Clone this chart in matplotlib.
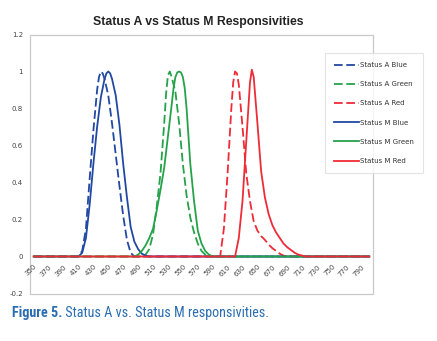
import matplotlib
matplotlib.use("Agg")
import matplotlib.pyplot as plt
from matplotlib import font_manager
from matplotlib.font_manager import FontProperties
from matplotlib.patches import Rectangle

# ---------------- data ----------------
a_blue_nm = [350, 410, 415, 420, 425, 430, 435, 437.5, 440, 442.5, 445, 450, 455, 460, 465, 470, 475, 480, 485, 800]
a_blue    = [0, 0, 0.03, 0.15, 0.42, 0.68, 0.90, 0.97, 1.00, 0.99, 0.96, 0.87, 0.72, 0.55, 0.38, 0.22, 0.09, 0.02, 0, 0]

m_blue_nm = [350, 410, 415, 420, 425, 430, 435, 440, 445, 447.5, 450, 452.5, 455, 460, 465, 470, 475, 480, 485, 490, 495, 500, 505, 800]
m_blue    = [0, 0, 0.02, 0.10, 0.28, 0.50, 0.70, 0.86, 0.96, 0.99, 1.00, 0.99, 0.96, 0.87, 0.71, 0.50, 0.32, 0.16, 0.08, 0.04, 0.015, 0.005, 0, 0]

a_green_nm = [350, 495, 500, 505, 510, 515, 520, 525, 527.5, 530, 532.5, 535, 540, 545, 550, 555, 560, 565, 570, 575, 580, 585, 590, 800]
a_green    = [0, 0, 0.01, 0.04, 0.12, 0.27, 0.45, 0.72, 0.88, 0.98, 1.00, 0.97, 0.89, 0.72, 0.50, 0.33, 0.21, 0.13, 0.07, 0.03, 0.01, 0.005, 0, 0]

m_green_nm = [350, 485, 490, 495, 500, 505, 510, 515, 520, 525, 530, 535, 537.5, 540, 542.5, 545, 547.5, 550, 552.5, 555, 560, 565, 570, 575, 580, 585, 590, 800]
m_green    = [0, 0, 0.01, 0.03, 0.06, 0.10, 0.15, 0.25, 0.36, 0.48, 0.65, 0.82, 0.91, 0.97, 0.995, 1.00, 0.995, 0.97, 0.91, 0.80, 0.50, 0.30, 0.14, 0.07, 0.03, 0.01, 0, 0]

a_red_nm = [350, 600, 605, 610, 615, 617.5, 620, 622.5, 625, 630, 635, 640, 645, 650, 655, 660, 665, 670, 675, 680, 685, 690, 800]
a_red    = [0, 0, 0.15, 0.45, 0.80, 0.94, 1.00, 0.99, 0.93, 0.70, 0.45, 0.30, 0.19, 0.14, 0.11, 0.09, 0.065, 0.045, 0.03, 0.015, 0.005, 0, 0]

m_red_nm = [350, 620, 625, 630, 635, 640, 642.5, 645, 650, 655, 660, 665, 670, 675, 680, 685, 690, 695, 700, 705, 710, 715, 800]
m_red    = [0, 0, 0.10, 0.30, 0.62, 0.94, 1.01, 0.97, 0.72, 0.46, 0.32, 0.23, 0.17, 0.13, 0.10, 0.07, 0.05, 0.035, 0.02, 0.01, 0.005, 0, 0]

x_ticks = list(range(350, 800, 20))
y_ticks = [-0.2, 0, 0.2, 0.4, 0.6, 0.8, 1, 1.2]
y_labels = ["-0.2", "0", "0.2", "0.4", "0.6", "0.8", "1", "1.2"]

title = "Status A vs Status M Responsivities"
caption_bold = "Figure 5."
caption_rest = " Status A vs. Status M responsivities."

# ---------------- style ----------------
BLUE = "#2148a2"
GREEN = "#26a24a"
RED = "#ee2c37"
GRAY = "#c9c9c9"
TXT = "#444444"
CAP = "#2a6db0"


def find_narrow(bold):
    prefs = ["LiberationSansNarrow", "RobotoCondensed", "OpenSansCondensed",
             "OpenSans_Condensed", "DejaVuSansCondensed", "NotoSansDisplay-Condensed",
             "NotoSans-Condensed", "Condensed", "Narrow"]
    files = [f.fname for f in font_manager.fontManager.ttflist]
    for p in prefs:
        cands = [f for f in files if p.lower() in f.replace(" ", "").lower()]
        if not cands:
            continue
        def score(fn):
            n = fn.lower()
            s = 0
            if "italic" in n or "oblique" in n:
                s += 10
            isbold = "bold" in n and "semibold" not in n and "extrabold" not in n
            if bold and not isbold:
                s += 3
            if not bold and ("bold" in n or "light" in n or "thin" in n or "black" in n
                             or "medium" in n):
                s += 3
            return s
        cands.sort(key=score)
        return FontProperties(fname=cands[0])
    return None


fp_cap_b = find_narrow(True)
fp_cap_r = find_narrow(False)
if fp_cap_b is None:
    fp_cap_b = FontProperties(family="Liberation Sans", weight="bold")
    fp_cap_r = FontProperties(family="Liberation Sans")
    cap_size = 8.5
else:
    cap_size = 10.2
fp_cap_b.set_size(cap_size)
fp_cap_r.set_size(cap_size)

fig = plt.figure(figsize=(4.37, 3.41), dpi=100)
ax = fig.add_axes([30 / 437, 1 - 293.5 / 341, 343 / 437, 259 / 341])

lw = 1.3
dash = (4.8, 2.0)
ax.plot(a_blue_nm, a_blue, color=BLUE, lw=lw, dashes=dash, label="Status A Blue")
ax.plot(a_green_nm, a_green, color=GREEN, lw=lw, dashes=dash, label="Status A Green")
ax.plot(a_red_nm, a_red, color=RED, lw=lw, dashes=dash, label="Status A Red")
ax.plot(m_blue_nm, m_blue, color=BLUE, lw=lw, label="Status M Blue")
ax.plot(m_green_nm, m_green, color=GREEN, lw=lw, label="Status M Green")
ax.plot(m_red_nm, m_red, color=RED, lw=lw, label="Status M Red")

ax.set_xlim(345, 805)
ax.set_ylim(-0.2, 1.2)

for s in ax.spines.values():
    s.set_visible(False)
ax.spines["bottom"].set_position(("data", 0))
ax.add_patch(Rectangle((0, 0), 1, 1, transform=ax.transAxes, fill=False,
                       edgecolor=GRAY, lw=0.9, zorder=0.5, clip_on=False))

ax.set_yticks(y_ticks)
ax.set_yticklabels(y_labels)
ax.set_xticks(x_ticks)
ax.set_xticklabels([str(v) for v in x_ticks], rotation=45, ha="right",
                   va="top", rotation_mode="anchor")
ax.tick_params(axis="both", length=0, labelsize=5, labelcolor=TXT)
ax.tick_params(axis="x", pad=5)
ax.tick_params(axis="y", pad=5)

leg = ax.legend(loc="upper left", bbox_to_anchor=(325 / 437, 1 - 53 / 341),
                bbox_transform=fig.transFigure, borderaxespad=0,
                fontsize=5, handlelength=3.6, handletextpad=0.2,
                labelspacing=1.9, borderpad=1.3, frameon=True, fancybox=False)
leg.get_frame().set_edgecolor("#dddddd")
leg.get_frame().set_linewidth(0.8)
for t in leg.get_texts():
    t.set_color("#333333")

fig.text(198 / 437, 1 - 22 / 341, title, ha="center", va="center",
         fontsize=8.8, fontweight="bold", family="Liberation Sans", color="#222222")

t1 = fig.text(12 / 437, 1 - 313 / 341, caption_bold, ha="left", va="center",
              fontproperties=fp_cap_b, color=CAP)
ax.annotate(caption_rest, xy=(1, 0), xycoords=t1, ha="left", va="bottom",
            fontproperties=fp_cap_r, color=CAP, annotation_clip=False)

fig.savefig("out.png", dpi=100)
